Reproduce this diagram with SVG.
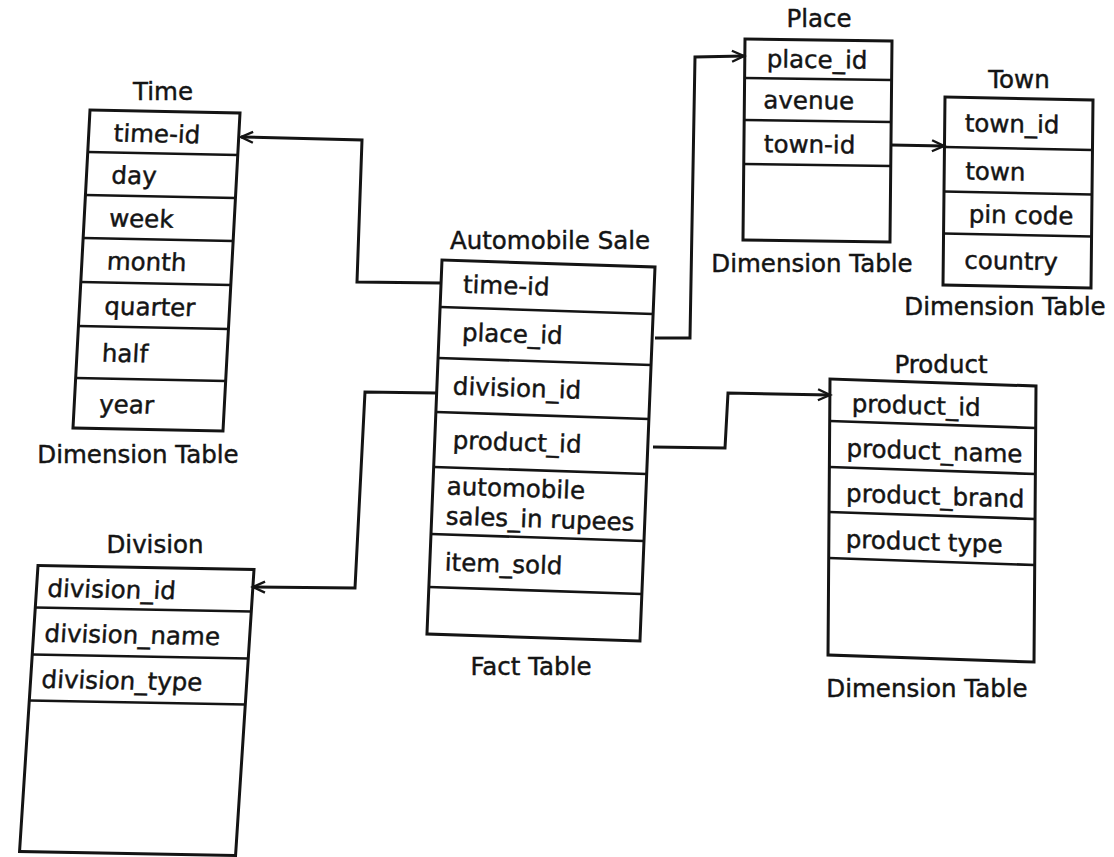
<svg xmlns="http://www.w3.org/2000/svg" width="1114" height="857" viewBox="0 0 1114 857">
<defs>
<style>
text{font-family:"DejaVu Sans","Liberation Sans",sans-serif;font-size:24.5px;fill:#141414;stroke:#141414;stroke-width:0.45px}
.t{text-anchor:middle}
.box{fill:none;stroke:#141414;stroke-width:3}
.row{stroke:#141414;stroke-width:2.6}
.conn{fill:none;stroke:#141414;stroke-width:3;stroke-linejoin:miter;marker-end:url(#arr)}
</style>
<marker id="arr" markerUnits="userSpaceOnUse" markerWidth="16" markerHeight="14" refX="13" refY="7" orient="auto">
<path d="M1,1.5 L13,7 L1,12.5" fill="none" stroke="#141414" stroke-width="2.4"/>
</marker>
</defs>
<rect width="1114" height="857" fill="#fff"/>

<g id="connectors">
<path class="conn" d="M441,283 L357,282 L362,140 L241,137"/>
<path class="conn" d="M655,338 L690,338 L695,57 L744,56"/>
<path class="conn" d="M891,145 L944,146"/>
<path class="conn" d="M437,393 L365,392 L355,588 L253,587"/>
<path class="conn" d="M653,447 L725,448 L728,393 L830,395"/>
</g>

<g id="time">
<text class="t" x="163" y="100">Time</text>
<g transform="matrix(1,0.02,-0.0535,1,90,110)">
<rect class="box" x="0" y="0" width="150" height="318"/>
<line class="row" x1="0" y1="42" x2="150" y2="42"/>
<line class="row" x1="0" y1="85" x2="150" y2="85"/>
<line class="row" x1="0" y1="128" x2="150" y2="128"/>
<line class="row" x1="0" y1="172" x2="150" y2="172"/>
<line class="row" x1="0" y1="216" x2="150" y2="216"/>
<line class="row" x1="0" y1="268" x2="150" y2="268"/>
<text x="25" y="31">time-id</text>
<text x="25" y="73">day</text>
<text x="25" y="116">week</text>
<text x="25" y="159">month</text>
<text x="25" y="204">quarter</text>
<text x="25" y="251">half</text>
<text x="25" y="302">year</text>
</g>
<text class="t" x="138" y="463">Dimension Table</text>
</g>

<g id="automobile-sale">
<text class="t" x="550" y="249">Automobile Sale</text>
<g transform="matrix(1,0.0326,-0.0402,1,442,260)">
<rect class="box" x="0" y="0" width="213" height="374"/>
<line class="row" x1="0" y1="47" x2="213" y2="47"/>
<line class="row" x1="0" y1="98" x2="213" y2="98"/>
<line class="row" x1="0" y1="152" x2="213" y2="152"/>
<line class="row" x1="0" y1="207" x2="213" y2="207"/>
<line class="row" x1="0" y1="274" x2="213" y2="274"/>
<line class="row" x1="0" y1="327" x2="213" y2="327"/>
<text x="22" y="32">time-id</text>
<text x="23" y="80">place_id</text>
<text x="16" y="134">division_id</text>
<text x="18" y="188">product_id</text>
<text x="14" y="234">automobile</text>
<text x="14" y="264">sales_in rupees</text>
<text x="15" y="310">item_sold</text>
</g>
<text class="t" x="531" y="675">Fact Table</text>
</g>

<g id="place">
<text class="t" x="819" y="27">Place</text>
<g transform="matrix(1,0.0136,-0.01,1,745,39)">
<rect class="box" x="0" y="0" width="147" height="201"/>
<line class="row" x1="0" y1="39" x2="147" y2="39"/>
<line class="row" x1="0" y1="81" x2="147" y2="81"/>
<line class="row" x1="0" y1="125" x2="147" y2="125"/>
<text x="22" y="28">place_id</text>
<text x="19" y="69">avenue</text>
<text x="20" y="113">town-id</text>
</g>
<text class="t" x="812" y="272">Dimension Table</text>
</g>

<g id="town">
<text class="t" x="1019" y="88">Town</text>
<g transform="matrix(1,0.0203,-0.0106,1,945,97)">
<rect class="box" x="0" y="0" width="148" height="188"/>
<line class="row" x1="0" y1="50" x2="148" y2="50"/>
<line class="row" x1="0" y1="94.5" x2="148" y2="94.5"/>
<line class="row" x1="0" y1="136.5" x2="148" y2="136.5"/>
<text x="20" y="34">town_id</text>
<text x="21" y="82">town</text>
<text x="25" y="125">pin code</text>
<text x="21" y="171">country</text>
</g>
<text class="t" x="1005" y="315">Dimension Table</text>
</g>

<g id="product">
<text class="t" x="941" y="373">Product</text>
<g transform="matrix(1,0.034,-0.0072,1,830,379)">
<rect class="box" x="0" y="0" width="206" height="276"/>
<line class="row" x1="0" y1="42" x2="206" y2="42"/>
<line class="row" x1="0" y1="88" x2="206" y2="88"/>
<line class="row" x1="0" y1="133" x2="206" y2="133"/>
<line class="row" x1="0" y1="179" x2="206" y2="179"/>
<text x="22" y="32">product_id</text>
<text x="17" y="77">product_name</text>
<text x="17" y="122">product_brand</text>
<text x="17" y="168">product type</text>
</g>
<text class="t" x="927" y="697">Dimension Table</text>
</g>

<g id="division">
<text class="t" x="155" y="553">Division</text>
<g transform="matrix(1,0.0185,-0.0645,1,38,565.5)">
<rect class="box" x="0" y="0" width="216" height="286"/>
<line class="row" x1="0" y1="42" x2="216" y2="42"/>
<line class="row" x1="0" y1="89" x2="216" y2="89"/>
<line class="row" x1="0" y1="135" x2="216" y2="135"/>
<text x="11" y="31">division_id</text>
<text x="11" y="76">division_name</text>
<text x="11" y="122">division_type</text>
</g>
</g>
</svg>
